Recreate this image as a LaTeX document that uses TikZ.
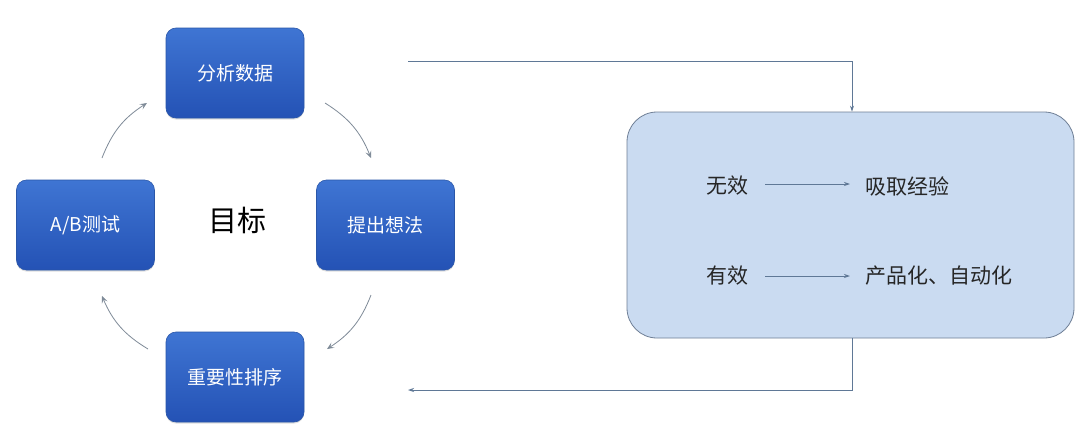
\documentclass[tikz,border=0pt]{standalone}
\usepackage{fontspec}
\setmainfont{Noto Sans CJK SC}
\usetikzlibrary{arrows.meta,shadows}
\definecolor{boxtop}{HTML}{3F75D3}
\definecolor{boxbot}{HTML}{2452B5}
\definecolor{boxedge}{HTML}{2A56A8}
\definecolor{bigfill}{HTML}{CADBF1}
\definecolor{bigedge}{HTML}{6F7F96}
\definecolor{linecol}{HTML}{5F7896}
\definecolor{curvecol}{HTML}{7F8B98}
\tikzset{
  stepbox/.style={draw=boxedge, line width=0.6pt, rounded corners=10pt, top color=boxtop, bottom color=boxbot,
    minimum width=138pt, minimum height=90pt, text=white, font=\fontsize{19}{22}\selectfont,
    drop shadow={shadow xshift=0pt, shadow yshift=-1.5pt, opacity=0.25}},
  cyc/.style={draw=curvecol, line width=0.8pt, -{Stealth[length=7pt,width=6pt,inset=3pt]}},
  flow/.style={draw=linecol, line width=0.8pt, -{Stealth[length=6pt,width=4pt]}},
  lbl/.style={font=\fontsize{21}{24}\selectfont, text=black!85},
}
\begin{document}
\begin{tikzpicture}[x=1pt,y=-1pt]
\useasboundingbox[fill=white] (0,0) rectangle (1080,426);
\node[stepbox] (fx) at (235,73) {分析数据};
\node[stepbox] (ab) at (85.5,225) {A/B测试};
\node[stepbox] (tc) at (385.5,225) {提出想法};
\node[stepbox] (px) at (235,377) {重要性排序};
\node[font=\fontsize{29}{33}\selectfont] (goal) at (237,220) {目标};

\coordinate (c1s) at (102,158); \coordinate (c1e) at (147,103);
\coordinate (c2s) at (325,103); \coordinate (c2e) at (371,158);
\coordinate (c3s) at (371,295); \coordinate (c3e) at (327,349);
\coordinate (c4s) at (148,349); \coordinate (c4e) at (102,296);
\draw[cyc] (c1s) to[bend left=18] (c1e);
\draw[cyc] (c2s) to[bend left=18] (c2e);
\draw[cyc] (c3s) to[bend left=18] (c3e);
\draw[cyc] (c4s) to[bend left=18] (c4e);

\node[draw=bigedge, line width=0.8pt, fill=bigfill, rounded corners=30pt, minimum width=447pt, minimum height=226pt] (big) at (850.5,225) {};

\coordinate (topstart) at (408,61);
\coordinate (botend) at (408,390);
\draw[flow] (topstart) -| (big.north -| 852,0);
\draw[flow] (big.south -| 852,0) |- (botend);

\node[lbl] (wx) at (727,186) {无效};
\node[lbl, anchor=west] (xq) at (862,186) {吸取经验};
\node[lbl] (yx) at (727,276) {有效};
\node[lbl, anchor=west] (cp) at (862,276) {产品化、自动化};
\draw[flow] (765,184) coordinate (a1) -- (850,184) coordinate (a2);
\draw[flow] (765,276) coordinate (b1) -- (850,276) coordinate (b2);
\end{tikzpicture}
\end{document}
